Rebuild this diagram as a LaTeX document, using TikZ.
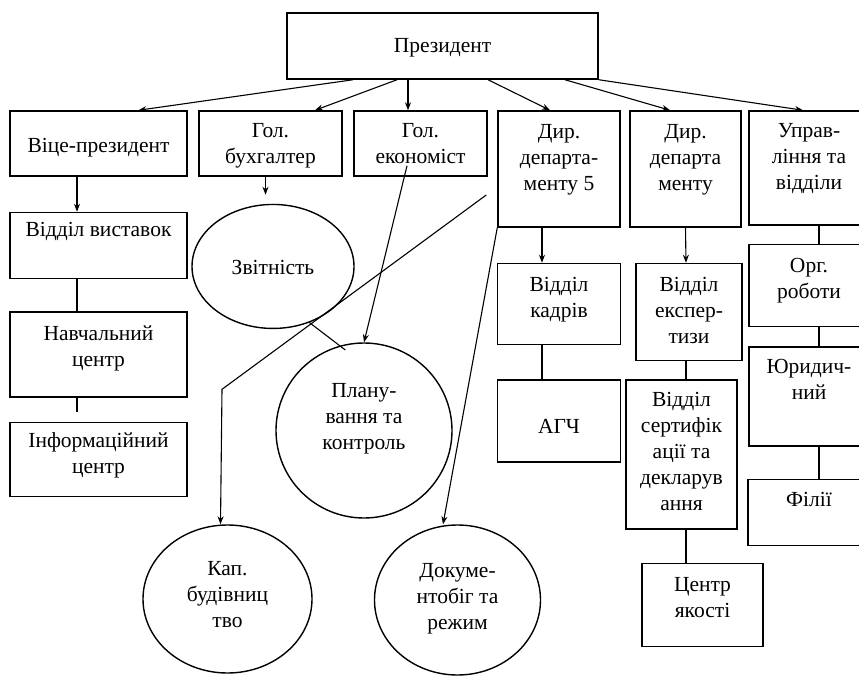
\documentclass[tikz,border=0pt]{standalone}
\usepackage{fontspec}
\setmainfont{Liberation Serif}
\usetikzlibrary{positioning,arrows.meta,shapes.geometric}

\begin{document}
\begin{tikzpicture}[
  x=1pt, y=-1pt,
  font=\fontsize{21.5}{26}\selectfont,
  box/.style={rectangle, draw, line width=1.5pt, inner sep=0pt, align=center,
              text height=0pt, text depth=0pt},
  oval/.style={ellipse, draw, line width=1.4pt, inner sep=0pt, align=center,
               text height=0pt, text depth=0pt},
  hgt/.style={text height=#1},
  dpt/.style={text depth=#1},
  arr/.style={-{Stealth[length=8pt,width=6pt]}, line width=1.1pt},
  ln/.style={line width=1.1pt},
]
  \useasboundingbox (0,0) rectangle (859,676);

  % Top
  \node[box, hgt=14pt, minimum width=311pt, minimum height=66pt] (pres) at (442.5,46) {Президент};

  % Second row
  \node[box, hgt=19pt, minimum width=177pt, minimum height=65pt] (vp) at (98.5,143.5) {Віце-президент};
  \node[box, hgt=41pt, minimum width=143pt, minimum height=65pt] (buh) at (270.5,143.5) {Гол.\\бухгалтер};
  \node[box, hgt=41pt, minimum width=133pt, minimum height=65pt] (eco) at (420.5,143.5) {Гол.\\економіст};
  \node[box, hgt=44pt, minimum width=122pt, minimum height=116pt] (dir5) at (559,169) {Дир.\\департа-\\менту 5};
  \node[box, hgt=44pt, minimum width=111pt, minimum height=116pt] (dir) at (685.5,169) {Дир.\\департа\\менту};
  \node[box, hgt=44pt, minimum width=120pt, minimum height=114pt] (upr) at (809,168) {Управ-\\ління та\\відділи};

  % Left column
  \node[box, dpt=18pt, minimum width=177pt, minimum height=66pt, below=35pt of vp] (vyst) {Відділ виставок};
  \node[box, hgt=23pt, minimum width=177pt, minimum height=85pt, below=32pt of vyst] (navch) {Навчальний\\центр};
  \node[box, hgt=28pt, minimum width=177pt, minimum height=74pt, below=24pt of navch] (inform) {Інформаційний\\центр};

  % Ovals
  \node[oval, hgt=16pt, minimum width=162pt, minimum height=124pt, below=27pt of buh, xshift=2.5pt] (zvit) {Звітність};
  \node[oval, hgt=38pt, minimum width=176pt, minimum height=175pt] (plan) at (364,430.5) {Плану-\\вання та\\контроль};
  \node[oval, hgt=56pt, minimum width=169pt, minimum height=148pt] (kap) at (227.5,599) {Кап.\\будівниц\\тво};
  \node[oval, hgt=58pt, minimum width=166pt, minimum height=150pt] (doc) at (457.5,600) {Докуме-\\нтобіг та\\режим};

  % Departments
  \node[box, hgt=27pt, minimum width=123pt, minimum height=81pt, below=35pt of dir5] (kadr) {Відділ\\кадрів};
  \node[box, hgt=24pt, minimum width=123pt, minimum height=82pt, below=34pt of kadr] (agch) {АГЧ};
  \node[box, hgt=63pt, minimum width=106pt, minimum height=97pt, below=35pt of dir, xshift=3.5pt] (expert) {Відділ\\експер-\\тизи};
  \node[box, hgt=111pt, minimum width=111pt, minimum height=149pt, below=18pt of expert, xshift=-7.5pt] (sert) {Відділ\\сертифік\\ації та\\декларув\\ання};
  \node[box, hgt=25pt, minimum width=121pt, minimum height=83pt, below=33pt of sert, xshift=21pt] (yakist) {Центр\\якості};
  \node[box, hgt=26pt, minimum width=120pt, minimum height=82pt, below=18pt of upr] (org) {Орг.\\роботи};
  \node[box, hgt=5pt, minimum width=120pt, minimum height=99pt, below=19pt of org] (yur) {Юридич-\\ний};
  \node[box, dpt=12pt, minimum width=122pt, minimum height=66pt, below=32pt of yur] (filii) {Філії};

  % Arrows from the top
  \draw[arr] ([xshift=-89.5pt]pres.south) -- ([xshift=40pt]vp.north);
  \draw[arr] ([xshift=-45.5pt]pres.south) -- ([xshift=44.5pt]buh.north);
  \draw[arr] ([xshift=-34.5pt]pres.south) -- ([xshift=-12.5pt]eco.north);
  \draw[arr] ([xshift=45.5pt]pres.south) -- ([xshift=-9pt]dir5.north);
  \draw[arr] ([xshift=122.5pt]pres.south) -- ([xshift=-15.5pt]dir.north);
  \draw[arr] (pres.south east) -- ([xshift=-6pt]upr.north);

  % Left column
  \draw[arr] ([xshift=-21.5pt]vp.south) -- ([xshift=-21.5pt]vyst.north);
  \draw[ln] ([xshift=-21.5pt]vyst.south) -- ([xshift=-21.5pt]navch.north);
  \draw[ln, shorten >=10pt] ([xshift=-21.5pt]navch.south) -- ([xshift=-21.5pt]inform.north);

  % Ovals
  \draw[arr, shorten >=9pt] ([xshift=-5pt]buh.south) -- ([xshift=-7.5pt]zvit.north);
  \draw[arr] ([xshift=-13.5pt,yshift=11pt]eco.south) -- (plan.north);
  \draw[ln, shorten >=-7pt] (zvit.-57.5) -- (plan.106);
  \draw[arr] ([xshift=-11pt,yshift=-26pt]dir5.west) -- ([xshift=-5.5pt,yshift=135pt]kap.north) -- ([xshift=-7pt]kap.north);
  \draw[arr] (dir5.south west) -- ([xshift=-14.5pt]doc.north);

  % Departments
  \draw[arr] ([xshift=-17pt]dir5.south) -- ([xshift=-17pt]kadr.north);
  \draw[ln] ([xshift=-17pt]kadr.south) -- ([xshift=-17pt]agch.north);
  \draw[arr] (dir.south) -- ([xshift=-3pt]expert.north);
  \draw[ln] ([xshift=-3pt]expert.south) -- ([xshift=4.5pt]sert.north);
  \draw[ln] ([xshift=4.5pt]sert.south) -- ([xshift=-16.5pt]yakist.north);
  \draw[ln] ([xshift=10pt]upr.south) -- ([xshift=10pt]org.north);
  \draw[ln] ([xshift=10pt]org.south) -- ([xshift=10pt]yur.north);
  \draw[ln] ([xshift=10pt]yur.south) -- ([xshift=10pt]filii.north);
\end{tikzpicture}
\end{document}
